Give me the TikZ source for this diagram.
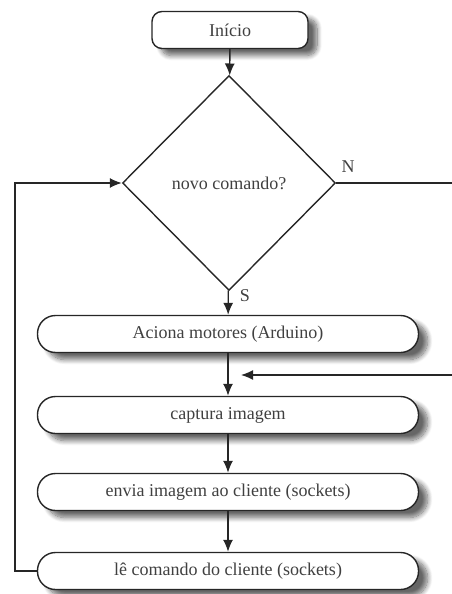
\documentclass[tikz,border=0pt]{standalone}
\usepackage{fontspec}
\setmainfont{Liberation Serif}
\usetikzlibrary{shapes.geometric,arrows.meta,shadows.blur}

\tikzset{
  base/.style={draw=black!85, line width=1.4pt, text=black!75,
    font=\fontsize{18}{21}\selectfont, fill=white},
  boxshadow/.style={blur shadow={shadow xshift=9pt, shadow yshift=-7pt,
    shadow blur steps=10, shadow blur radius=5pt, shadow opacity=60}},
  terminal/.style={base, boxshadow, rectangle, rounded corners=10pt,
    minimum width=156pt, minimum height=37pt},
  stepbox/.style={base, boxshadow, rectangle, rounded corners=18pt,
    minimum width=381pt, minimum height=37pt},
  decision/.style={base, diamond, minimum width=213pt, minimum height=215pt,
    inner sep=0pt},
  answer/.style={text=black!75, font=\fontsize{18}{21}\selectfont},
  flowline/.style={draw=black!85, line width=1.4pt,
    -{Latex[length=12pt,width=10pt]}},
}

\begin{document}
\begin{tikzpicture}[x=1pt,y=-1pt]
\useasboundingbox (0,0) rectangle (451,594);

% blocks
\node[terminal] (start) at (230,30) {Início};
\node[decision] (query) at (229,183) {novo comando?};
\node[stepbox] (motors) at (228,334) {Aciona motores (Arduino)};
\node[stepbox] (capture) at (228,415) {captura imagem};
\node[stepbox] (send) at (228,492) {envia imagem ao cliente (sockets)};
\node[stepbox] (read) at (228,571) {lê comando do cliente (sockets)};

% main path
\draw[flowline] (start) -- (query);
\draw[flowline] (query) -- (motors);
\draw[flowline] (motors) -- (capture);
\draw[flowline] (capture) -- (send);
\draw[flowline] (send) -- (read);
\node[answer] (yes) at (245,296) {S};

% back to the test
\draw[flowline] (read.west) -- (15,571) |- (query.west);

% answer N leaves to the right and comes back in
\coordinate (join) at (241,375);
\node[answer] (no) at (348,167) {N};
\draw[flowline] (query.east) -- (470,183) -- (470,375) -- (join);
\end{tikzpicture}
\end{document}
